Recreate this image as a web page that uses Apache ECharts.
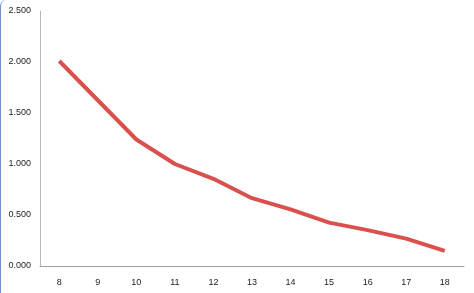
<!DOCTYPE html>
<html><head><meta charset="utf-8">
<script src="https://cdn.jsdelivr.net/npm/echarts@6/dist/echarts.min.js"></script>
<style>
html,body{margin:0;padding:0;background:#fff;}
#c{width:474px;height:293px;box-sizing:border-box;border-left:1.5px solid #7090d0;border-top-left-radius:6px;}
</style></head>
<body><div id="c"></div>
<script>
const categories = ['8','9','10','11','12','13','14','15','16','17','18'];
const values = [2.01, 1.625, 1.24, 1.0, 0.855, 0.665, 0.555, 0.425, 0.352, 0.268, 0.148];
const yTicks = [0, 0.5, 1.0, 1.5, 2.0, 2.5];

const chart = echarts.init(document.getElementById('c'), null, {renderer:'canvas'});
chart.setOption({
  animation:false,
  grid:{left:39, top:11, right:10, bottom:27},
  xAxis:{type:'category', data:categories, boundaryGap:true,
    axisLine:{lineStyle:{color:'#a0a0a0', width:1}}, axisTick:{show:false},
    axisLabel:{color:'#222', fontSize:9, fontFamily:'Liberation Sans', margin:12}},
  yAxis:{type:'value', min:yTicks[0], max:yTicks[yTicks.length-1], interval:0.5,
    axisLine:{show:true, lineStyle:{color:'#b8b8b8', width:1}}, axisTick:{show:false},
    splitLine:{show:false},
    axisLabel:{color:'#222', fontSize:9, fontFamily:'Liberation Sans', margin:9,
      formatter:v=>v.toFixed(3)}},
  series:[{type:'line', data:values, symbol:'none', smooth:false,
    lineStyle:{color:'#d9504c', width:4}}]
});
</script></body></html>
